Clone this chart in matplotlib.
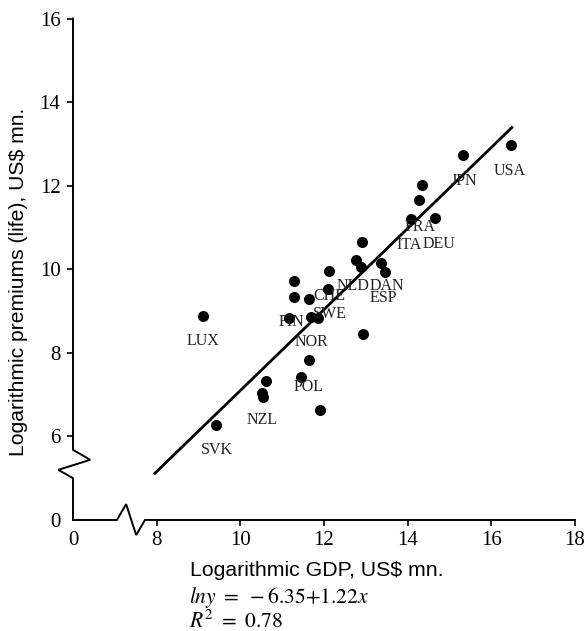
import matplotlib
matplotlib.use('Agg')
import matplotlib.pyplot as plt

# --- DATA ---
gdp = [16.47, 15.32, 14.35, 14.28, 14.07, 14.66, 12.92, 12.77, 12.89, 13.37,
       13.45, 12.12, 11.29, 12.10, 11.29, 11.65, 11.17, 11.70, 11.86, 12.93,
       11.63, 11.44, 10.61, 10.51, 10.55, 11.90, 9.43, 9.10]
premiums = [12.97, 12.73, 12.02, 11.65, 11.20, 11.22, 10.66, 10.23, 10.06, 10.16,
            9.94, 9.96, 9.73, 9.53, 9.34, 9.30, 8.83, 8.85, 8.83, 8.44,
            7.83, 7.43, 7.33, 7.03, 6.94, 6.63, 6.27, 8.87]

labels = ['USA', 'JPN', 'FRA', 'ITA', 'DEU', 'NLD', 'DAN', 'ESP', 'CHE',
          'SWE', 'FIN', 'NOR', 'POL', 'NZL', 'SVK', 'LUX']
label_x = [16.45, 15.34, 14.30, 14.04, 14.74, 12.70, 13.50, 13.42, 12.14,
           12.14, 11.23, 11.70, 11.63, 10.51, 9.43, 9.11]
label_y = [12.35, 12.12, 11.02, 10.58, 10.60, 9.61, 9.61, 9.32, 9.36,
           8.93, 8.73, 8.25, 7.18, 6.40, 5.68, 8.29]

fit_x = [7.96, 16.49]
fit_y = [5.12, 13.39]

# broken axes: the "0" sits at 6 on x and at 4 on y
xticks = [6, 8, 10, 12, 14, 16, 18]
xticklabels = ['0', '8', '10', '12', '14', '16', '18']
yticks = [4, 6, 8, 10, 12, 14, 16]
yticklabels = ['0', '6', '8', '10', '12', '14', '16']

# --- PLOT ---
plt.rcParams['mathtext.fontset'] = 'stix'
fig = plt.figure(figsize=(5.87, 6.31), dpi=100)
ax = fig.add_axes([73/587, 1-520/631, 502/587, 501.5/631])
ax.set_xlim(6, 18)
ax.set_ylim(4, 16)
for s in ax.spines.values():
    s.set_visible(False)

# axis lines with zigzag breaks
ax.plot([6, 6, 6.41, 5.65, 6, 6, 7.05, 7.27, 7.51, 7.72, 18],
        [16, 5.68, 5.44, 5.20, 5.0, 4, 4, 4.38, 3.64, 4, 4],
        color='black', lw=1.4, clip_on=False, solid_joinstyle='miter')

ax.scatter(gdp, premiums, s=48, color='black', zorder=3, clip_on=False)
ax.plot(fit_x, fit_y, color='black', lw=2.0, clip_on=False)

for t, x, y in zip(labels, label_x, label_y):
    ax.text(x, y, t, ha='center', va='center', fontsize=11.5,
            family='Liberation Serif', color='#222222')

ax.set_xticks(xticks)
ax.set_xticklabels(xticklabels, family='Liberation Serif', fontsize=15)
ax.set_yticks(yticks)
ax.set_yticklabels(yticklabels, family='Liberation Serif', fontsize=15)
ax.tick_params(axis='x', length=4, width=1.2, pad=4)
ax.tick_params(axis='y', length=4, width=1.2, pad=5)
# no separate tick marks at the broken origin
ax.xaxis.get_major_ticks()[0].tick1line.set_visible(False)
ax.yaxis.get_major_ticks()[0].tick1line.set_visible(False)

fig.text(19/587, 1-282/631, 'Logarithmic premiums (life), US$ mn.', rotation=90,
         ha='center', va='center', fontsize=15.2, family='Liberation Sans')
fig.text(317/587, 1-570/631, 'Logarithmic GDP, US$ mn.', ha='center', va='center',
         fontsize=15.3, family='Liberation Sans')
fig.text(189/587, 1-598/631, r'$lny\ =\ -6.35{+}1.22x$', ha='left', va='center', fontsize=15.5)
fig.text(189/587, 1-621/631, r'$R^2\ =\ 0.78$', ha='left', va='center', fontsize=15.5)

fig.savefig('out.png', dpi=100)
